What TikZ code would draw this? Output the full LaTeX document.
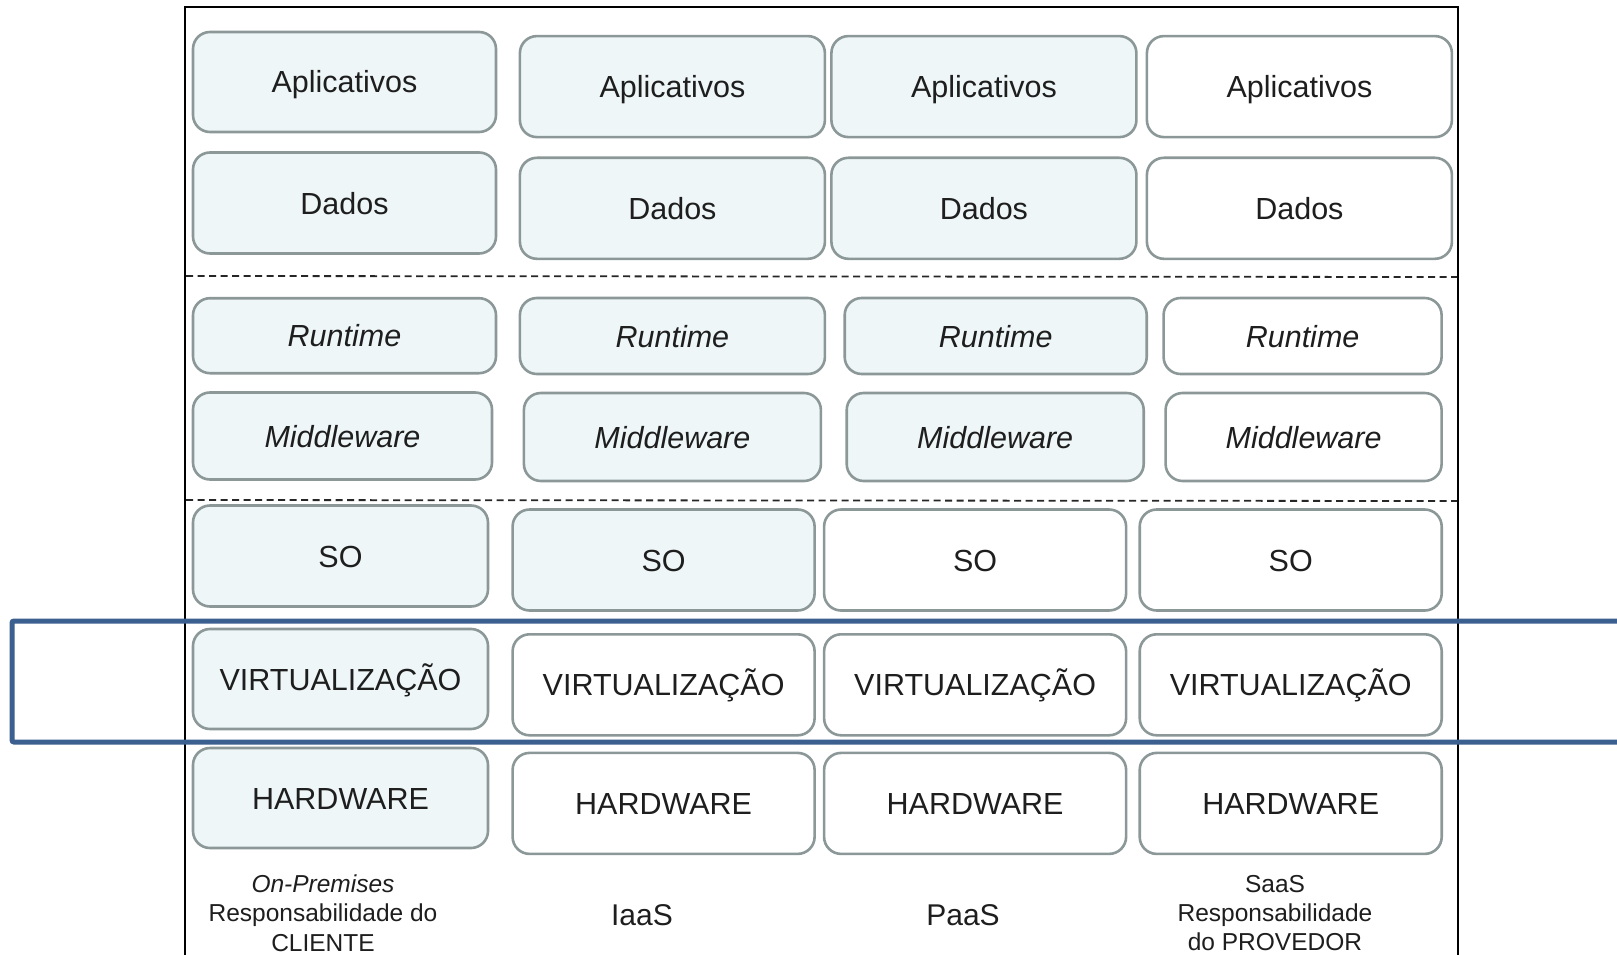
\documentclass[tikz,border=0pt]{standalone}
\usepackage{fontspec}
\setmainfont{Liberation Sans}
\definecolor{boxgray}{HTML}{8C9898}
\definecolor{lblue}{HTML}{EEF6F8}
\definecolor{txt}{HTML}{1E1E1E}
\definecolor{frameblue}{HTML}{3B5F8F}
\tikzset{
  layer/.style={draw=boxgray, line width=2.6pt, rounded corners=17pt, inner sep=0pt,
    text=txt, font=\fontsize{30.5}{36}\selectfont, text height=22pt, text depth=0pt},
  fbox/.style={layer, fill=lblue},
  wbox/.style={layer, fill=white},
  caption/.style={text=txt, align=center, inner sep=0pt},
  divider/.style={black!85, line width=1.8pt, dash pattern=on 7pt off 4.5pt},
  frameline/.style={black, line width=2pt},
  highlight/.style={draw=frameblue, line width=5pt, rounded corners=2pt}
}
\newcommand{\bx}[7]{\node[#2, minimum width=#5pt, minimum height=#6pt] (#1) at (#3,#4) {#7};}
\begin{document}
\begin{tikzpicture}[x=1pt,y=-1pt]
\useasboundingbox[fill=white] (0,0) rectangle (1617,955);
% frame
\coordinate (fbl) at (185,955);
\coordinate (ftl) at (185,7);
\coordinate (ftr) at (1458,7);
\coordinate (fbr) at (1458,955);
\draw[frameline] (fbl) -- (ftl) -- (ftr) -- (fbr);
% dashed dividers
\coordinate (d1l) at (186,276); \coordinate (d1r) at (1457,277);
\coordinate (d2l) at (186,500); \coordinate (d2r) at (1457,501);
\draw[divider] (d1l) -- (d1r);
\draw[divider] (d2l) -- (d2r);
% column 1: On-Premises
\bx{a1}{fbox}{344.5}{82}{303}{100}{Aplicativos}
\bx{d1}{fbox}{344.5}{203}{303}{101}{Dados}
\bx{r1}{fbox}{344.5}{335.7}{303}{75}{\itshape Runtime}
\bx{m1}{fbox}{342.5}{436}{299}{87}{\itshape Middleware}
\bx{s1}{fbox}{340.5}{556}{295}{101}{SO}
\bx{v1}{fbox}{340.5}{679}{295}{100}{VIRTUALIZAÇÃO}
\bx{h1}{fbox}{340.5}{798}{295}{100}{HARDWARE}
% column 2: IaaS
\bx{a2}{fbox}{672.4}{86.6}{305}{101}{Aplicativos}
\bx{d2}{fbox}{672.4}{208.3}{305}{101}{Dados}
\bx{r2}{fbox}{672.4}{336}{305}{76}{\itshape Runtime}
\bx{m2}{fbox}{672.4}{437}{297}{88}{\itshape Middleware}
\bx{s2}{fbox}{663.6}{560}{302}{101}{SO}
\bx{v2}{wbox}{663.6}{684.8}{302}{101}{VIRTUALIZAÇÃO}
\bx{h2}{wbox}{663.6}{803.4}{302}{101}{HARDWARE}
% column 3: PaaS
\bx{a3}{fbox}{983.9}{86.6}{305}{101}{Aplicativos}
\bx{d3}{fbox}{983.9}{208.3}{305}{101}{Dados}
\bx{r3}{fbox}{995.7}{336}{302}{76}{\itshape Runtime}
\bx{m3}{fbox}{995.2}{437}{297}{88}{\itshape Middleware}
\bx{s3}{wbox}{975.1}{560}{302}{101}{SO}
\bx{v3}{wbox}{975.1}{684.8}{302}{101}{VIRTUALIZAÇÃO}
\bx{h3}{wbox}{975.1}{803.4}{302}{101}{HARDWARE}
% column 4: SaaS
\bx{a4}{wbox}{1299.4}{86.6}{305}{101}{Aplicativos}
\bx{d4}{wbox}{1299.4}{208.3}{305}{101}{Dados}
\bx{r4}{wbox}{1302.6}{336}{278}{76}{\itshape Runtime}
\bx{m4}{wbox}{1303.6}{437}{276}{88}{\itshape Middleware}
\bx{s4}{wbox}{1290.7}{560}{302}{101}{SO}
\bx{v4}{wbox}{1290.7}{684.8}{302}{101}{VIRTUALIZAÇÃO}
\bx{h4}{wbox}{1290.7}{803.4}{302}{101}{HARDWARE}
% captions
\node[caption, font=\fontsize{24.5}{29.3}\selectfont] (c1) at (323,913) {\itshape On-Premises\\Responsabilidade do\\CLIENTE};
\node[caption, font=\fontsize{30}{36}\selectfont] (c2) at (642,915) {IaaS};
\node[caption, font=\fontsize{30}{36}\selectfont] (c3) at (963,915) {PaaS};
\node[caption, font=\fontsize{24.5}{29.3}\selectfont] (c4) at (1275,913) {SaaS\\Responsabilidade\\do PROVEDOR};
% blue highlight
\coordinate (hbr) at (1625,742);
\coordinate (htr) at (1625,621);
\coordinate (htl) at (12,621);
\coordinate (hbl) at (12,742);
\draw[highlight] (htr) -- (htl) -- (hbl) -- (hbr);
\end{tikzpicture}
\end{document}
